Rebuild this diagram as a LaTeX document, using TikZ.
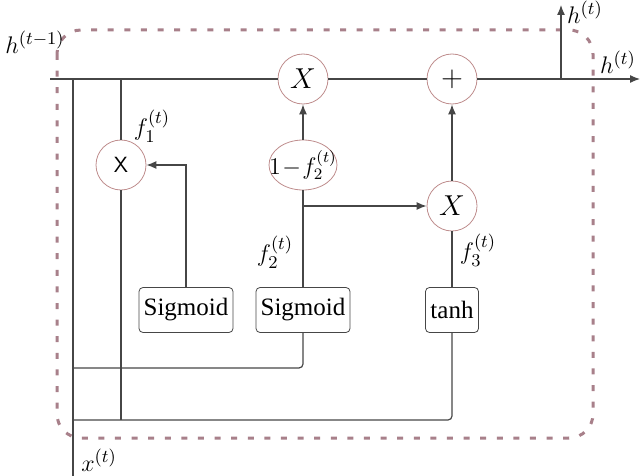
\documentclass[tikz,border=0pt]{standalone}
\usepackage{fontspec}
\setmainfont{Liberation Serif}
\usetikzlibrary{arrows.meta,positioning,calc,shapes.geometric}
\definecolor{CELL-ROSE}{RGB}{168, 128, 138}
\definecolor{GATE-RING}{RGB}{190, 140, 140}
\definecolor{WIRE-GRAY}{RGB}{70, 70, 70}

\tikzset{
  wire/.style={draw=WIRE-GRAY, line width=0.6pt},
  flow/.style={wire, -{Latex[length=5pt,width=4pt]}},
  opcircle/.style={circle, draw=GATE-RING, line width=0.4pt, minimum size=25pt, inner sep=0pt,
    font=\fontsize{13.5}{16}\selectfont},
  actbox/.style={rectangle, rounded corners=2pt, draw=WIRE-GRAY, line width=0.4pt,
    minimum height=22.5pt, inner sep=1pt},
  mathlabel/.style={font=\fontsize{13}{15}\selectfont},
}

\begin{document}
\begin{tikzpicture}[x=0.5pt, y=-0.5pt, font=\fontsize{12.5}{14}\selectfont]
  \useasboundingbox (0,0) rectangle (643,476);

  % Cell border (dashed)
  \draw[CELL-ROSE, line width=1.5pt, dash pattern=on 3pt off 5.3pt, rounded corners=12pt]
    (57,30) rectangle (593,438);

  % Gates
  \node[opcircle] (mul1) at (121,165) {\fontsize{11}{12}\selectfont\sffamily X};
  \node[opcircle] (mulh) at (303,79) {$X$};
  \node[opcircle] (plus) at (452,79) {$+$};
  \node[opcircle] (mul3) at (452,206) {$X$};
  \node[ellipse, draw=GATE-RING, line width=0.4pt, minimum width=34pt, minimum height=25pt,
    inner sep=0pt] (omf) at (303,165) {};
  \node[inner sep=0pt, font=\fontsize{12}{14}\selectfont] (omftext) at (omf) {$1\!-\!f_2^{(t)}$};

  % Activations
  \node[actbox, minimum width=47pt] (sig1) at (186,310) {Sigmoid};
  \node[actbox, minimum width=47pt] (sig2) at (303,310) {Sigmoid};
  \node[actbox, minimum width=26.5pt] (tanh) at (452,310) {tanh};

  % Inputs and outputs
  \coordinate (hin) at (50,79);
  \coordinate (hout) at (640,79);
  \coordinate (hsplit) at (561,79);
  \coordinate (hup) at (561,5);
  \coordinate (xin) at (73,476);
  \coordinate (xtop) at (73,79);
  \coordinate (ftop) at (121,79);
  \coordinate (fbot) at (121,420);
  \coordinate (row1) at (73,368);
  \coordinate (row2) at (73,420);
  \coordinate (branch) at (303,206);

  % Hidden state path
  \draw[wire] (hin) -- (mulh.west);
  \draw[wire] (mulh.east) -- (plus.west);
  \draw[flow] (plus.east) -- (hout);
  \draw[flow] (hsplit) -- (hup);

  % Input path
  \draw[wire] (xin) -- (xtop);
  \draw[wire] (ftop) -- (mul1.north);
  \draw[wire] (mul1.south) -- (fbot);
  \draw[flow] (sig1.north) |- (mul1.east);
  \draw[wire, rounded corners=2pt] (row1) -| (sig2.south);
  \draw[wire, rounded corners=2pt] (row2) -| (tanh.south);

  % Update path
  \draw[wire] (sig2.north) -- (omf.south);
  \draw[flow] (omf.north) -- (mulh.south);
  \draw[flow] (branch) -- (mul3.west);
  \draw[wire] (tanh.north) -- (mul3.south);
  \draw[flow] (mul3.north) -- (plus.south);

  % Labels
  \node[mathlabel, anchor=west, inner sep=0pt] (hprev) at (5,42) {$h^{(t-1)}$};
  \node[mathlabel] (hnext) at (585,12) {$h^{(t)}$};
  \node[mathlabel] (hright) at (618,62) {$h^{(t)}$};
  \node[mathlabel] (f1) at (152,126) {$f_1^{(t)}$};
  \node[mathlabel] (f2) at (275,252) {$f_2^{(t)}$};
  \node[mathlabel] (f3) at (478,250) {$f_3^{(t)}$};
  \node[mathlabel] (xt) at (99,460) {$x^{(t)}$};
\end{tikzpicture}
\end{document}
